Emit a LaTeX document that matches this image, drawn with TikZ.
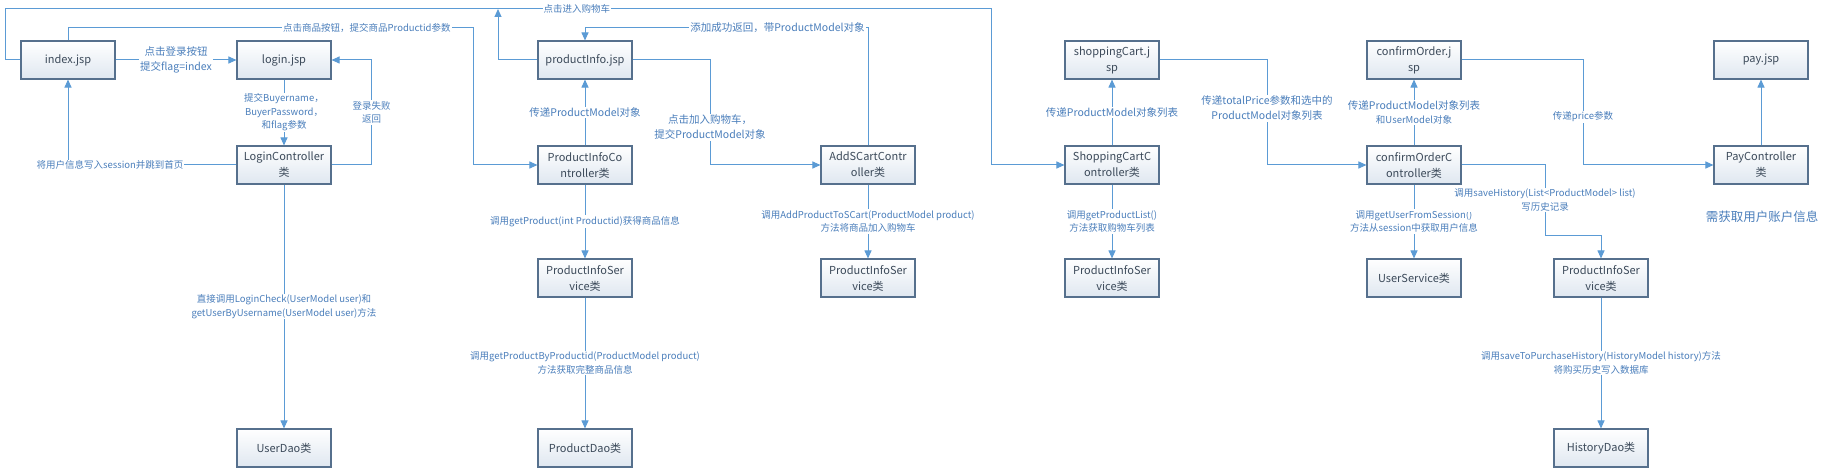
\documentclass[tikz,border=0pt]{standalone}
\usepackage{fontspec}
\setmainfont{Noto Sans CJK SC}
\usetikzlibrary{arrows.meta}
\definecolor{linec}{HTML}{5B9BD5}
\definecolor{lblc}{HTML}{4A7EBB}
\definecolor{boxb}{HTML}{56708D}
\definecolor{boxt}{HTML}{3C4A5A}
\definecolor{boxbot}{HTML}{DFE7F0}
\begin{document}
\begin{tikzpicture}[x=1pt,y=-1pt,
 box/.style={draw=boxb, line width=1.1pt, top color=white, bottom color=boxbot, minimum width=94pt, minimum height=38pt, inner sep=1pt, align=center, text=boxt, font=\fontsize{11}{16}\selectfont},
 conn/.style={draw=linec, line width=1pt, -{Triangle[length=8pt,width=7pt]}},
 plain/.style={draw=linec, line width=1pt},
 lbl/.style={fill=white, text=lblc, font=\fontsize{9.5}{13.5}\selectfont, align=center, inner sep=1pt},
 lblb/.style={lbl, font=\fontsize{10.5}{15}\selectfont},
]
\useasboundingbox[fill=white] (0,0) rectangle (1832,468);

% boxes
\node[box] (index)   at (68,60)   {index.jsp};
\node[box] (login)   at (284,60)  {login.jsp};
\node[box] (loginc)  at (284,165) {LoginController\\类};
\node[box] (userdao) at (284,448) {UserDao类};
\node[box] (pinfo)   at (585,60)  {productInfo.jsp};
\node[box] (pic)     at (585,165) {ProductInfoCo\\ntroller类};
\node[box] (pis1)    at (585,278) {ProductInfoSer\\vice类};
\node[box] (pdao)    at (585,448) {ProductDao类};
\node[box] (addc)    at (868,165) {AddSCartContr\\oller类};
\node[box] (pis2)    at (868,278) {ProductInfoSer\\vice类};
\node[box] (cart)    at (1112,60) {shoppingCart.j\\sp};
\node[box] (cartc)   at (1112,165){ShoppingCartC\\ontroller类};
\node[box] (pis3)    at (1112,278){ProductInfoSer\\vice类};
\node[box] (conf)    at (1414,60) {confirmOrder.j\\sp};
\node[box] (confc)   at (1414,165){confirmOrderC\\ontroller类};
\node[box] (usvc)    at (1414,278){UserService类};
\node[box] (pis4)    at (1601,278){ProductInfoSer\\vice类};
\node[box] (hdao)    at (1601,448){HistoryDao类};
\node[box] (pay)     at (1761,60) {pay.jsp};
\node[box] (payc)    at (1761,165){PayController\\类};

\node[text=lblc, font=\fontsize{12.5}{15}\selectfont] (note) at (1762,217) {需获取用户账户信息};

\coordinate (topj) at (498,9);

% connectors
\draw[conn] (index) -- node[lblb]{点击登录按钮\\提交flag=index} (login);
\draw[conn] (login) -- node[lbl]{提交Buyername，\\BuyerPassword，\\和flag参数} (loginc);
\draw[conn] (loginc.east) -- ++(40,0) |- node[lbl,pos=0.25]{登录失败\\返回} (login.east);
\draw[conn] (loginc.west) -| node[lbl,pos=0.375]{将用户信息写入session并跳到首页} (index.south);
\draw[conn] (loginc) -- node[lbl]{直接调用LoginCheck(UserModel user)和\\getUserByUsername(UserModel user)方法} (userdao);

\draw[conn] (index.north) |- node[lbl,pos=0.869]{点击商品按钮，提交商品Productid参数} (473,28) |- (pic.west);
\draw[conn] (index.west) -- (5,60) |- node[lbl,pos=0.79]{点击进入购物车} (991,9) |- (cartc.west);
\draw[conn] (pinfo.west) -| (topj);

\draw[conn] (pic) -- node[lblb]{传递ProductModel对象} (pinfo);
\draw[conn] (pinfo.east) -- (710,60) |- node[lblb,pos=0.32]{点击加入购物车，\\提交ProductModel对象} (addc.west);
\draw[conn] (addc.north) |- node[lblb,pos=0.66]{添加成功返回，带ProductModel对象} (585,28) -- (pinfo.north);
\draw[conn] (pic) -- node[lbl]{调用getProduct(int Productid)获得商品信息} (pis1);
\draw[conn] (pis1) -- node[lbl]{调用getProductByProductid(ProductModel product)\\方法获取完整商品信息} (pdao);
\draw[conn] (addc) -- node[lbl]{调用AddProductToSCart(ProductModel product)\\方法将商品加入购物车} (pis2);

\draw[conn] (cartc) -- node[lblb]{传递ProductModel对象列表} (cart);
\draw[conn] (cart.east) -- (1267,60) |- node[lblb,pos=0.23]{传递totalPrice参数和选中的\\ProductModel对象列表} (confc.west);
\draw[conn] (cartc) -- node[lbl]{调用getProductList()\\方法获取购物车列表} (pis3);

\draw[conn] (confc) -- node[lbl]{{\fontsize{10.5}{15}\selectfont 传递ProductModel对象列表}\\和UserModel对象} (conf);
\draw[conn] (conf.east) -- (1583,60) |- node[lbl,pos=0.27]{传递price参数} (payc.west);
\draw[conn] (payc) -- (pay);
\draw[conn] (confc) -- node[lbl]{调用getUserFromSession()\\方法从session中获取用户信息} (usvc);
\draw[conn] (confc.east) -- (1545,165) |- node[lbl,pos=0.25]{调用saveHistory(List<ProductModel> list)\\写历史记录} (1601,235) -- (pis4.north);
\draw[conn] (pis4) -- node[lbl]{调用saveToPurchaseHistory(HistoryModel history)方法\\将购买历史写入数据库} (hdao);
\end{tikzpicture}
\end{document}
